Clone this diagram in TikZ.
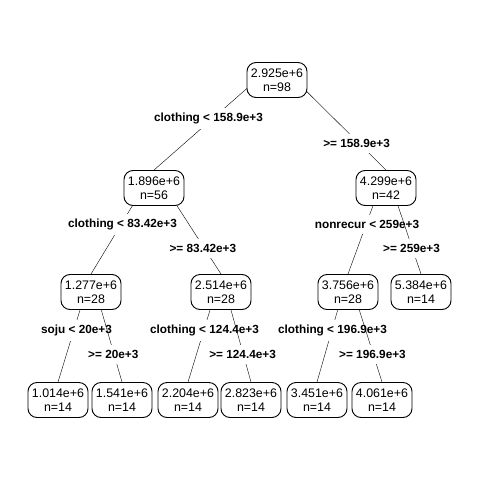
\documentclass[tikz,border=0pt]{standalone}
\usepackage{fontspec}
\setmainfont{Liberation Sans}
\usetikzlibrary{backgrounds}

\begin{document}
\begin{tikzpicture}[x=1pt,y=-1pt,
  leaf/.style={draw,line width=0.9pt,rounded corners=9pt,fill=white,align=center,
    minimum width=60pt,minimum height=35pt,inner sep=2pt,
    font=\fontsize{12.4}{14.5}\selectfont},
  split/.style={fill=white,inner xsep=2pt,inner ysep=5pt,yshift=-2.5pt,
    font=\fontsize{11.8}{14}\selectfont\bfseries}]
\useasboundingbox (0,0) rectangle (480,480);
\node[leaf] (root) at (277,80) {2.925e+6\\n=98};
\node[leaf] (l) at (154,188) {1.896e+6\\n=56};
\node[leaf] (r) at (386,188) {4.299e+6\\n=42};
\node[leaf] (ll) at (91,292) {1.277e+6\\n=28};
\node[leaf] (lr) at (221,292) {2.514e+6\\n=28};
\node[leaf] (rl) at (348,292) {3.756e+6\\n=28};
\node[leaf] (rr) at (421,292) {5.384e+6\\n=14};
\node[leaf] (lll) at (58,400) {1.014e+6\\n=14};
\node[leaf] (llr) at (122,400) {1.541e+6\\n=14};
\node[leaf] (lrl) at (188,400) {2.204e+6\\n=14};
\node[leaf] (lrr) at (251,400) {2.823e+6\\n=14};
\node[leaf] (rll) at (317,400) {3.451e+6\\n=14};
\node[leaf] (rlr) at (382,400) {4.061e+6\\n=14};
\begin{scope}[on background layer]
\draw (root.north) -- (l.north) node[split,pos=.5,xshift=-7pt] {clothing < 158.9e+3};
\draw (root.north) -- (r.north) node[split,pos=.73] {>= 158.9e+3};
\draw (l.north) -- (ll.north) node[split,pos=.5] {clothing < 83.42e+3};
\draw (l.north) -- (lr.north) node[split,pos=.73] {>= 83.42e+3};
\draw (r.north) -- (rl.north) node[split,pos=.5] {nonrecur < 259e+3};
\draw (r.north) -- (rr.north) node[split,pos=.73] {>= 259e+3};
\draw (ll.north) -- (lll.north) node[split,pos=.5,xshift=2pt] {soju < 20e+3};
\draw (ll.north) -- (llr.north) node[split,pos=.72] {>= 20e+3};
\draw (lr.north) -- (lrl.north) node[split,pos=.5] {clothing < 124.4e+3};
\draw (lr.north) -- (lrr.north) node[split,pos=.72] {>= 124.4e+3};
\draw (rl.north) -- (rll.north) node[split,pos=.5] {clothing < 196.9e+3};
\draw (rl.north) -- (rlr.north) node[split,pos=.72] {>= 196.9e+3};
\end{scope}
\end{tikzpicture}
\end{document}
